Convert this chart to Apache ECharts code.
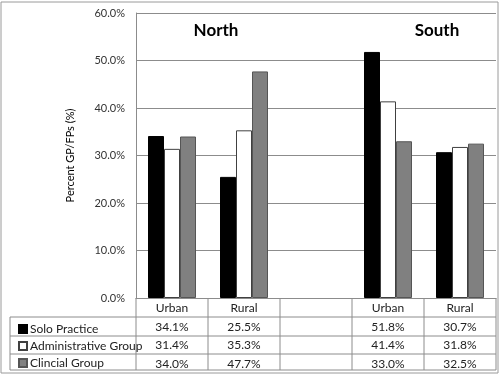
<!DOCTYPE html>
<html>
<head>
<meta charset="utf-8">
<script src="https://cdn.jsdelivr.net/npm/echarts@6/dist/echarts.min.js"></script>
<style>
  html, body { margin: 0; padding: 0; background: #fff; }
  #chart { width: 500px; height: 376px; }
</style>
</head>
<body>
<div id="chart"></div>
<script>
// data
var categories = ['Urban', 'Rural', '', 'Urban', 'Rural'];
var soloPractice = [34.1, 25.5, null, 51.8, 30.7];
var adminGroup = [31.4, 35.3, null, 41.4, 31.8];
var clinicalGroup = [34.0, 47.7, null, 33.0, 32.5];
var seriesNames = ['Solo Practice', 'Administrative Group', 'Clincial Group'];
var regionLabels = ['North', 'South'];

var font = 'Lato, "Open Sans", sans-serif';
var lineColor = '#8c8c8c';

var chart = echarts.init(document.getElementById('chart'));

function cell(v) {
    return v == null ? ' ' : v.toFixed(1) + '%';
}

var gridL = 136, gridR = 496, gridT = 13, gridB = 298;
var rowY = [317, 336, 354, 370];

// table lines
var lines = [];
rowY.forEach(function (y) {
    lines.push({ type: 'line', shape: { x1: 10, y1: y, x2: gridR, y2: y }, style: { stroke: lineColor, lineWidth: 1 } });
});
for (var i = 0; i <= categories.length; i++) {
    var x = gridL + i * (gridR - gridL) / categories.length;
    lines.push({ type: 'line', shape: { x1: x, y1: gridB, x2: x, y2: 370 }, style: { stroke: lineColor, lineWidth: 1 } });
}
lines.push({ type: 'line', shape: { x1: 10, y1: 317, x2: 10, y2: 370 }, style: { stroke: lineColor, lineWidth: 1 } });
lines.push({ type: 'rect', shape: { x: 1, y: 2, width: 497, height: 371 }, style: { fill: 'none', stroke: '#9a9a9a', lineWidth: 1 } });

var option = {
    animation: false,
    textStyle: { fontFamily: font },
    title: [
        { text: regionLabels[0], left: 211, top: 17, textAlign: 'center',
          textStyle: { fontSize: 17, fontWeight: 'bold', color: '#000', fontFamily: font } },
        { text: regionLabels[1], left: 432, top: 17, textAlign: 'center',
          textStyle: { fontSize: 17, fontWeight: 'bold', color: '#000', fontFamily: font } }
    ],
    legend: {
        orient: 'vertical',
        left: 13,
        top: 318,
        itemWidth: 8,
        itemHeight: 8,
        itemGap: 5,
        icon: 'rect',
        textStyle: { fontSize: 12, color: '#222', padding: [0, 0, 0, -2] },
        data: seriesNames
    },
    grid: { left: gridL, right: 500 - gridR, top: gridT, bottom: 376 - gridB },
    xAxis: {
        type: 'category',
        data: categories,
        axisLine: { lineStyle: { color: lineColor } },
        axisTick: { show: false },
        axisLabel: {
            margin: 1,
            interval: 0,
            lineHeight: 18.5,
            fontSize: 12,
            color: '#222',
            formatter: function (val, idx) {
                return [val || ' ', cell(soloPractice[idx]), cell(adminGroup[idx]), cell(clinicalGroup[idx])].join('\n');
            }
        }
    },
    yAxis: {
        type: 'value',
        min: 0,
        max: 60,
        interval: 10,
        name: 'Percent GP/FPs (%)',
        nameLocation: 'middle',
        nameGap: 60,
        nameTextStyle: { fontSize: 11, color: '#000' },
        axisLine: { show: true, lineStyle: { color: lineColor } },
        axisTick: { show: false },
        axisLabel: {
            margin: 11,
            fontSize: 11,
            color: '#333',
            formatter: function (v) { return v.toFixed(1) + '%'; }
        },
        splitLine: { lineStyle: { color: lineColor } }
    },
    series: [
        { name: seriesNames[0], type: 'bar', data: soloPractice, barWidth: 16, barGap: '0%',
          itemStyle: { color: '#000', borderColor: '#000', borderWidth: 1 } },
        { name: seriesNames[1], type: 'bar', data: adminGroup, barWidth: 16, barGap: '0%',
          itemStyle: { color: '#fff', borderColor: '#404040', borderWidth: 1 } },
        { name: seriesNames[2], type: 'bar', data: clinicalGroup, barWidth: 16, barGap: '0%',
          itemStyle: { color: '#808080', borderColor: '#555', borderWidth: 1 } }
    ],
    graphic: lines
};
chart.setOption(option);
</script>
</body>
</html>
